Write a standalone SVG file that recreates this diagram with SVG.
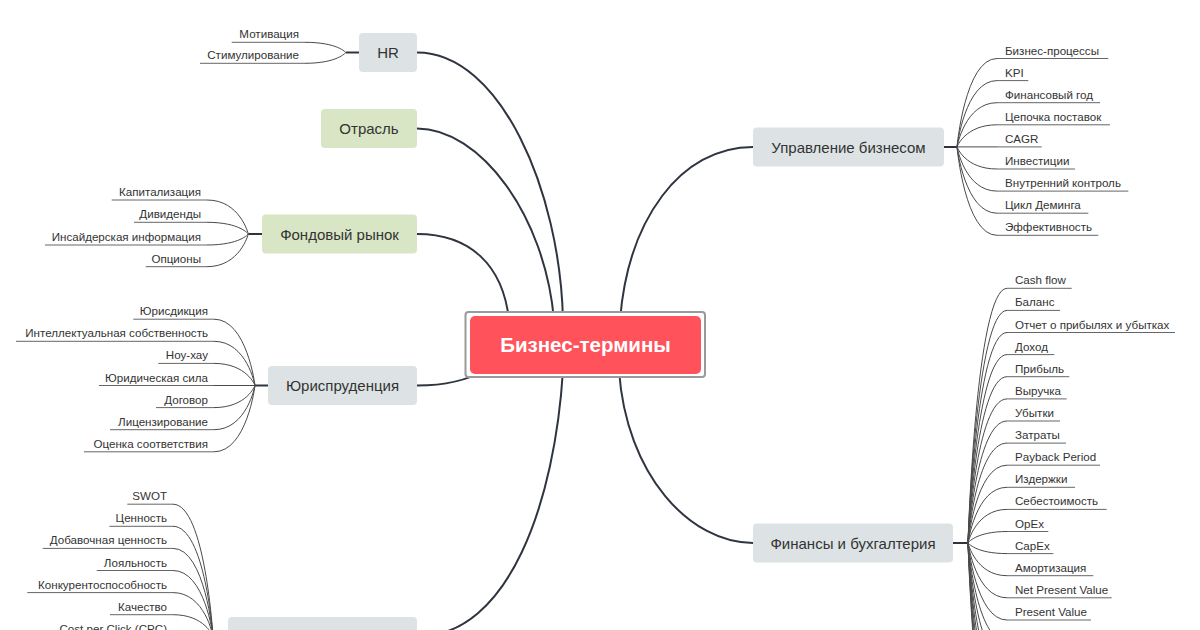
<svg xmlns="http://www.w3.org/2000/svg" width="1200" height="630" viewBox="0 0 1200 630">
<style>
.bg{fill:#ffffff}
.main{fill:none;stroke:#2f3540;stroke-width:2}
.stub{fill:none;stroke:#2f3540;stroke-width:2}
.leafc{fill:none;stroke:#4a4a4a;stroke-width:1}
.ul{stroke:#666;stroke-width:1}
.gray{fill:#dde3e5}
.green{fill:#d8e6c5}
.nt{font-family:"Liberation Sans",Arial,sans-serif;font-size:15px;fill:#333;text-anchor:middle}
.lt{font-family:"Liberation Sans",Arial,sans-serif;font-size:11.6px;fill:#333}
.l{text-anchor:end}
.r{text-anchor:start}
</style>
<rect class="bg" x="0" y="0" width="1200" height="630"/>
<g id="connectors">
<path class="main" d="M417,52.5 C500,52.5 560,190 563,320"/>
<path class="main" d="M417,128.5 C480,128.5 545,215 554,320"/>
<path class="main" d="M417,234 C470,234 503,265 509,320"/>
<path class="main" d="M753,147 C680,147 628,220 620,320"/>
<path class="main" d="M417,385.5 C445,385.5 468,380 485,370"/>
<path class="main" d="M563,370 C555,500 510,636.5 417,636.5"/>
<path class="main" d="M619,370 C626,475 690,543 753,543"/>
<path class="stub" d="M359,52.5 H345.7"/>
<path class="stub" d="M262,234 H248.3"/>
<path class="stub" d="M268,385.5 H255"/>
<path class="stub" d="M228,636.5 H213"/>
<path class="stub" d="M944,147 H957"/>
<path class="stub" d="M953,543 H968"/>
<path class="leafc" d="M345.7,52.5 C345.7,52.5 337.6,42.3 305,42.3"/>
<path class="leafc" d="M345.7,52.5 C345.7,52.5 337.6,63.3 305,63.3"/>
<path class="leafc" d="M248.3,234 C248.3,234 240,200 207,200"/>
<path class="leafc" d="M248.3,234 C248.3,234 240,222.3 207,222.3"/>
<path class="leafc" d="M248.3,234 C248.3,234 240,245 207,245"/>
<path class="leafc" d="M248.3,234 C248.3,234 240,266.7 207,266.7"/>
<path class="leafc" d="M255,385.5 C255,385.5 246.8,319.2 214,319.2"/>
<path class="leafc" d="M255,385.5 C255,385.5 246.8,341.3 214,341.3"/>
<path class="leafc" d="M255,385.5 C255,385.5 246.8,363.4 214,363.4"/>
<path class="leafc" d="M255,385.5 L214,385.5"/>
<path class="leafc" d="M255,385.5 C255,385.5 246.8,407.6 214,407.6"/>
<path class="leafc" d="M255,385.5 C255,385.5 246.8,429.7 214,429.7"/>
<path class="leafc" d="M255,385.5 C255,385.5 246.8,451.8 214,451.8"/>
<path class="leafc" d="M213,636.5 C213,636.5 205,504.2 173,504.2"/>
<path class="leafc" d="M213,636.5 C213,636.5 205,526.3 173,526.3"/>
<path class="leafc" d="M213,636.5 C213,636.5 205,548.4 173,548.4"/>
<path class="leafc" d="M213,636.5 C213,636.5 205,570.5 173,570.5"/>
<path class="leafc" d="M213,636.5 C213,636.5 205,592.6 173,592.6"/>
<path class="leafc" d="M213,636.5 C213,636.5 205,614.7 173,614.7"/>
<path class="leafc" d="M213,636.5 C213,636.5 205,636.8 173,636.8"/>
<path class="leafc" d="M957,146.9 C957,146.9 965,58.5 997,58.5"/>
<path class="leafc" d="M957,146.9 C957,146.9 965,80.6 997,80.6"/>
<path class="leafc" d="M957,146.9 C957,146.9 965,102.7 997,102.7"/>
<path class="leafc" d="M957,146.9 C957,146.9 965,124.8 997,124.8"/>
<path class="leafc" d="M957,146.9 L997,146.9"/>
<path class="leafc" d="M957,146.9 C957,146.9 965,169 997,169"/>
<path class="leafc" d="M957,146.9 C957,146.9 965,191.1 997,191.1"/>
<path class="leafc" d="M957,146.9 C957,146.9 965,213.2 997,213.2"/>
<path class="leafc" d="M957,146.9 C957,146.9 965,235.3 997,235.3"/>
<path class="leafc" d="M968,542.9 C968,542.9 975.8,288.3 1007,288.3"/>
<path class="leafc" d="M968,542.9 C968,542.9 975.8,310.4 1007,310.4"/>
<path class="leafc" d="M968,542.9 C968,542.9 975.8,332.5 1007,332.5"/>
<path class="leafc" d="M968,542.9 C968,542.9 975.8,354.6 1007,354.6"/>
<path class="leafc" d="M968,542.9 C968,542.9 975.8,376.7 1007,376.7"/>
<path class="leafc" d="M968,542.9 C968,542.9 975.8,398.9 1007,398.9"/>
<path class="leafc" d="M968,542.9 C968,542.9 975.8,421 1007,421"/>
<path class="leafc" d="M968,542.9 C968,542.9 975.8,443.1 1007,443.1"/>
<path class="leafc" d="M968,542.9 C968,542.9 975.8,465.2 1007,465.2"/>
<path class="leafc" d="M968,542.9 C968,542.9 975.8,487.3 1007,487.3"/>
<path class="leafc" d="M968,542.9 C968,542.9 975.8,509.4 1007,509.4"/>
<path class="leafc" d="M968,542.9 C968,542.9 975.8,531.5 1007,531.5"/>
<path class="leafc" d="M968,542.9 C968,542.9 975.8,553.6 1007,553.6"/>
<path class="leafc" d="M968,542.9 C968,542.9 975.8,575.7 1007,575.7"/>
<path class="leafc" d="M968,542.9 C968,542.9 975.8,597.8 1007,597.8"/>
<path class="leafc" d="M968,542.9 C968,542.9 975.8,620 1007,620"/>
<path class="leafc" d="M968,542.9 C968,542.9 975.8,642.1 1007,642.1"/>
<path class="leafc" d="M968,542.9 C968,542.9 975.8,664.2 1007,664.2"/>
<path class="leafc" d="M968,542.9 C968,542.9 975.8,686.3 1007,686.3"/>
<path class="leafc" d="M968,542.9 C968,542.9 975.8,708.4 1007,708.4"/>
<path class="leafc" d="M968,542.9 C968,542.9 975.8,730.5 1007,730.5"/>
<path class="leafc" d="M968,542.9 C968,542.9 975.8,752.6 1007,752.6"/>
<path class="leafc" d="M968,542.9 C968,542.9 975.8,774.7 1007,774.7"/>
<path class="leafc" d="M968,542.9 C968,542.9 975.8,796.8 1007,796.8"/>
</g>

<g id="center">
<rect x="465.5" y="312" width="239.5" height="65" rx="3" fill="#fff" stroke="#9a9a9a" stroke-width="2"/>
<rect x="470" y="316" width="231" height="58" rx="5" fill="#ff525b"/>
<text x="585.5" y="352" font-family="'Liberation Sans',Arial,sans-serif" font-size="20.5" font-weight="bold" fill="#fff" text-anchor="middle">Бизнес-термины</text>
</g>

<g id="node-hr"><rect class="gray" x="359" y="33" width="58" height="39" rx="4"/><text class="nt" x="388" y="58">HR</text></g>
<g id="node-otrasl"><rect class="green" x="321" y="109" width="96" height="39" rx="4"/><text class="nt" x="369" y="134">Отрасль</text></g>
<g id="node-fond"><rect class="green" x="262" y="214.5" width="155" height="39" rx="4"/><text class="nt" x="339.5" y="239.5">Фондовый рынок</text></g>
<g id="node-yur"><rect class="gray" x="268" y="366" width="149" height="39" rx="4"/><text class="nt" x="342.5" y="391">Юриспруденция</text></g>
<g id="node-bottom"><rect class="gray" x="228" y="617" width="189" height="39" rx="4"/></g>
<g id="node-upr"><rect class="gray" x="753" y="127.5" width="191" height="39" rx="4"/><text class="nt" x="848.5" y="152.5">Управление бизнесом</text></g>
<g id="node-fin"><rect class="gray" x="753" y="523.5" width="200" height="39" rx="4"/><text class="nt" x="853" y="548.5">Финансы и бухгалтерия</text></g>

<g id="leaf-motivatsiya"><line class="ul" x1="231.7" y1="42.3" x2="305" y2="42.3"/><text class="lt l" x="299" y="38.3">Мотивация</text></g>
<g id="leaf-stimul"><line class="ul" x1="200" y1="63.3" x2="305" y2="63.3"/><text class="lt l" x="299" y="59.3">Стимулирование</text></g>
<g id="leaf-kapit"><line class="ul" x1="111.7" y1="200" x2="207" y2="200"/><text class="lt l" x="201" y="196">Капитализация</text></g>
<g id="leaf-divid"><line class="ul" x1="134" y1="222.3" x2="207" y2="222.3"/><text class="lt l" x="201" y="218.3">Дивиденды</text></g>
<g id="leaf-insaid"><line class="ul" x1="45" y1="245" x2="207" y2="245"/><text class="lt l" x="201" y="241">Инсайдерская информация</text></g>
<g id="leaf-optsiony"><line class="ul" x1="145.7" y1="266.7" x2="207" y2="266.7"/><text class="lt l" x="201" y="262.7">Опционы</text></g>
<g id="leaf-yurisd"><line class="ul" x1="133.3" y1="319.2" x2="214" y2="319.2"/><text class="lt l" x="208" y="315.2">Юрисдикция</text></g>
<g id="leaf-intel"><line class="ul" x1="16" y1="341.3" x2="214" y2="341.3"/><text class="lt l" x="208" y="337.3">Интеллектуальная собственность</text></g>
<g id="leaf-nouhau"><line class="ul" x1="158.3" y1="363.4" x2="214" y2="363.4"/><text class="lt l" x="208" y="359.4">Ноу-хау</text></g>
<g id="leaf-yursila"><line class="ul" x1="99" y1="385.5" x2="214" y2="385.5"/><text class="lt l" x="208" y="381.5">Юридическая сила</text></g>
<g id="leaf-dogovor"><line class="ul" x1="156" y1="407.6" x2="214" y2="407.6"/><text class="lt l" x="208" y="403.6">Договор</text></g>
<g id="leaf-licenz"><line class="ul" x1="110" y1="429.7" x2="214" y2="429.7"/><text class="lt l" x="208" y="425.7">Лицензирование</text></g>
<g id="leaf-otsenka"><line class="ul" x1="84" y1="451.8" x2="214" y2="451.8"/><text class="lt l" x="208" y="447.8">Оценка соответствия</text></g>
<g id="leaf-swot"><line class="ul" x1="127.3" y1="504.2" x2="173" y2="504.2"/><text class="lt l" x="167" y="500.2">SWOT</text></g>
<g id="leaf-tsennost"><line class="ul" x1="109.3" y1="526.3" x2="173" y2="526.3"/><text class="lt l" x="167" y="522.3">Ценность</text></g>
<g id="leaf-dobav"><line class="ul" x1="42.7" y1="548.4" x2="173" y2="548.4"/><text class="lt l" x="167" y="544.4">Добавочная ценность</text></g>
<g id="leaf-loyal"><line class="ul" x1="96.7" y1="570.5" x2="173" y2="570.5"/><text class="lt l" x="167" y="566.5">Лояльность</text></g>
<g id="leaf-konkur"><line class="ul" x1="27.3" y1="592.6" x2="173" y2="592.6"/><text class="lt l" x="167" y="588.6">Конкурентоспособность</text></g>
<g id="leaf-kachestvo"><line class="ul" x1="110" y1="614.7" x2="173" y2="614.7"/><text class="lt l" x="167" y="610.7">Качество</text></g>
<g id="leaf-cpc"><line class="ul" x1="59" y1="636.8" x2="173" y2="636.8"/><text class="lt l" x="167" y="632.8">Cost per Click (CPC)</text></g>
<g id="leaf-bp"><line class="ul" x1="997" y1="58.5" x2="1108.3" y2="58.5"/><text class="lt r" x="1005" y="54.5">Бизнес-процессы</text></g>
<g id="leaf-kpi"><line class="ul" x1="997" y1="80.6" x2="1028.3" y2="80.6"/><text class="lt r" x="1005" y="76.6">KPI</text></g>
<g id="leaf-fingod"><line class="ul" x1="997" y1="102.7" x2="1100" y2="102.7"/><text class="lt r" x="1005" y="98.7">Финансовый год</text></g>
<g id="leaf-tsepochka"><line class="ul" x1="997" y1="124.8" x2="1110" y2="124.8"/><text class="lt r" x="1005" y="120.8">Цепочка поставок</text></g>
<g id="leaf-cagr"><line class="ul" x1="997" y1="146.9" x2="1041.7" y2="146.9"/><text class="lt r" x="1005" y="142.9">CAGR</text></g>
<g id="leaf-invest"><line class="ul" x1="997" y1="169" x2="1075" y2="169"/><text class="lt r" x="1005" y="165">Инвестиции</text></g>
<g id="leaf-vnutr"><line class="ul" x1="997" y1="191.1" x2="1128.3" y2="191.1"/><text class="lt r" x="1005" y="187.1">Внутренний контроль</text></g>
<g id="leaf-deming"><line class="ul" x1="997" y1="213.2" x2="1088.3" y2="213.2"/><text class="lt r" x="1005" y="209.2">Цикл Деминга</text></g>
<g id="leaf-effekt"><line class="ul" x1="997" y1="235.3" x2="1098.3" y2="235.3"/><text class="lt r" x="1005" y="231.3">Эффективность</text></g>
<g id="leaf-cashflow"><line class="ul" x1="1007" y1="288.3" x2="1071.7" y2="288.3"/><text class="lt r" x="1015" y="284.3">Cash flow</text></g>
<g id="leaf-balans"><line class="ul" x1="1007" y1="310.4" x2="1060" y2="310.4"/><text class="lt r" x="1015" y="306.4">Баланс</text></g>
<g id="leaf-otchet"><line class="ul" x1="1007" y1="332.5" x2="1175" y2="332.5"/><text class="lt r" x="1015" y="328.5">Отчет о прибылях и убытках</text></g>
<g id="leaf-dohod"><line class="ul" x1="1007" y1="354.6" x2="1054.3" y2="354.6"/><text class="lt r" x="1015" y="350.6">Доход</text></g>
<g id="leaf-pribyl"><line class="ul" x1="1007" y1="376.7" x2="1069.3" y2="376.7"/><text class="lt r" x="1015" y="372.7">Прибыль</text></g>
<g id="leaf-vyruchka"><line class="ul" x1="1007" y1="398.9" x2="1066.7" y2="398.9"/><text class="lt r" x="1015" y="394.9">Выручка</text></g>
<g id="leaf-ubytki"><line class="ul" x1="1007" y1="421" x2="1060" y2="421"/><text class="lt r" x="1015" y="417">Убытки</text></g>
<g id="leaf-zatraty"><line class="ul" x1="1007" y1="443.1" x2="1066" y2="443.1"/><text class="lt r" x="1015" y="439.1">Затраты</text></g>
<g id="leaf-payback"><line class="ul" x1="1007" y1="465.2" x2="1100" y2="465.2"/><text class="lt r" x="1015" y="461.2">Payback Period</text></g>
<g id="leaf-izderzhki"><line class="ul" x1="1007" y1="487.3" x2="1075" y2="487.3"/><text class="lt r" x="1015" y="483.3">Издержки</text></g>
<g id="leaf-sebest"><line class="ul" x1="1007" y1="509.4" x2="1106.7" y2="509.4"/><text class="lt r" x="1015" y="505.4">Себестоимость</text></g>
<g id="leaf-opex"><line class="ul" x1="1007" y1="531.5" x2="1048.3" y2="531.5"/><text class="lt r" x="1015" y="527.5">OpEx</text></g>
<g id="leaf-capex"><line class="ul" x1="1007" y1="553.6" x2="1053.3" y2="553.6"/><text class="lt r" x="1015" y="549.6">CapEx</text></g>
<g id="leaf-amort"><line class="ul" x1="1007" y1="575.7" x2="1093.3" y2="575.7"/><text class="lt r" x="1015" y="571.7">Амортизация</text></g>
<g id="leaf-npv"><line class="ul" x1="1007" y1="597.8" x2="1111.7" y2="597.8"/><text class="lt r" x="1015" y="593.8">Net Present Value</text></g>
<g id="leaf-pv"><line class="ul" x1="1007" y1="620" x2="1091" y2="620"/><text class="lt r" x="1015" y="616">Present Value</text></g>
</svg>
